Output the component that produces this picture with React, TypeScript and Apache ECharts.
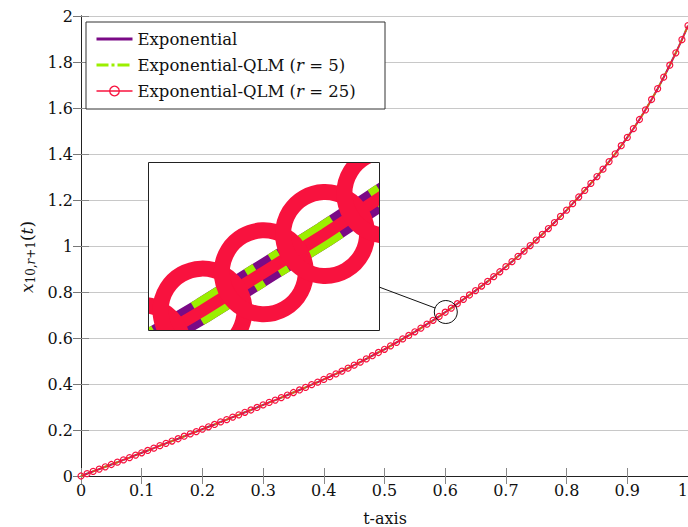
import React, { useEffect, useRef } from "react";
import * as echarts from "echarts";

// t-values of the sampled points (markers every 0.01)
const tValues = [
  0, 0.01, 0.02, 0.03, 0.04, 0.05, 0.06, 0.07, 0.08, 0.09, 0.1,
  0.11, 0.12, 0.13, 0.14, 0.15, 0.16, 0.17, 0.18, 0.19, 0.2,
  0.21, 0.22, 0.23, 0.24, 0.25, 0.26, 0.27, 0.28, 0.29, 0.3,
  0.31, 0.32, 0.33, 0.34, 0.35, 0.36, 0.37, 0.38, 0.39, 0.4,
  0.41, 0.42, 0.43, 0.44, 0.45, 0.46, 0.47, 0.48, 0.49, 0.5,
  0.51, 0.52, 0.53, 0.54, 0.55, 0.56, 0.57, 0.58, 0.59, 0.6,
  0.61, 0.62, 0.63, 0.64, 0.65, 0.66, 0.67, 0.68, 0.69, 0.7,
  0.71, 0.72, 0.73, 0.74, 0.75, 0.76, 0.77, 0.78, 0.79, 0.8,
  0.81, 0.82, 0.83, 0.84, 0.85, 0.86, 0.87, 0.88, 0.89, 0.9,
  0.91, 0.92, 0.93, 0.94, 0.95, 0.96, 0.97, 0.98, 0.99, 1,
];

const yExponential = [
  0, 0.01, 0.02, 0.03, 0.04, 0.05, 0.06, 0.07, 0.08, 0.091, 0.101,
  0.111, 0.121, 0.132, 0.142, 0.152, 0.162, 0.173, 0.183, 0.193, 0.204,
  0.214, 0.224, 0.235, 0.245, 0.256, 0.266, 0.277, 0.287, 0.298, 0.309,
  0.32, 0.33, 0.341, 0.352, 0.363, 0.374, 0.385, 0.397, 0.408, 0.42,
  0.432, 0.444, 0.456, 0.469, 0.482, 0.495, 0.509, 0.523, 0.537, 0.551,
  0.566, 0.581, 0.596, 0.611, 0.627, 0.643, 0.66, 0.677, 0.694, 0.712,
  0.73, 0.749, 0.768, 0.787, 0.806, 0.826, 0.846, 0.867, 0.888, 0.91,
  0.932, 0.955, 0.978, 1.002, 1.026, 1.051, 1.076, 1.102, 1.129, 1.156,
  1.184, 1.213, 1.242, 1.272, 1.302, 1.334, 1.367, 1.401, 1.436, 1.472,
  1.51, 1.55, 1.592, 1.637, 1.684, 1.734, 1.786, 1.84, 1.897, 1.958,
];

const yQLM5 = [
  0, 0.01, 0.02, 0.03, 0.04, 0.05, 0.06, 0.07, 0.08, 0.091, 0.101,
  0.111, 0.121, 0.132, 0.142, 0.152, 0.162, 0.173, 0.183, 0.193, 0.204,
  0.214, 0.224, 0.235, 0.245, 0.256, 0.266, 0.277, 0.287, 0.298, 0.309,
  0.32, 0.33, 0.341, 0.352, 0.363, 0.374, 0.385, 0.397, 0.408, 0.42,
  0.432, 0.444, 0.456, 0.469, 0.482, 0.495, 0.509, 0.523, 0.537, 0.551,
  0.566, 0.581, 0.596, 0.611, 0.627, 0.643, 0.66, 0.677, 0.694, 0.712,
  0.73, 0.749, 0.768, 0.787, 0.806, 0.826, 0.846, 0.867, 0.888, 0.91,
  0.932, 0.955, 0.978, 1.002, 1.026, 1.051, 1.076, 1.102, 1.129, 1.156,
  1.184, 1.213, 1.242, 1.272, 1.302, 1.334, 1.367, 1.401, 1.436, 1.472,
  1.51, 1.55, 1.592, 1.637, 1.684, 1.734, 1.786, 1.84, 1.897, 1.958,
];

const yQLM25 = [
  0, 0.01, 0.02, 0.03, 0.04, 0.05, 0.06, 0.07, 0.08, 0.091, 0.101,
  0.111, 0.121, 0.132, 0.142, 0.152, 0.162, 0.173, 0.183, 0.193, 0.204,
  0.214, 0.224, 0.235, 0.245, 0.256, 0.266, 0.277, 0.287, 0.298, 0.309,
  0.32, 0.33, 0.341, 0.352, 0.363, 0.374, 0.385, 0.397, 0.408, 0.42,
  0.432, 0.444, 0.456, 0.469, 0.482, 0.495, 0.509, 0.523, 0.537, 0.551,
  0.566, 0.581, 0.596, 0.611, 0.627, 0.643, 0.66, 0.677, 0.694, 0.712,
  0.73, 0.749, 0.768, 0.787, 0.806, 0.826, 0.846, 0.867, 0.888, 0.91,
  0.932, 0.955, 0.978, 1.002, 1.026, 1.051, 1.076, 1.102, 1.129, 1.156,
  1.184, 1.213, 1.242, 1.272, 1.302, 1.334, 1.367, 1.401, 1.436, 1.472,
  1.51, 1.55, 1.592, 1.637, 1.684, 1.734, 1.786, 1.84, 1.897, 1.958,
];

const seriesNames = [
  "Exponential",
  "Exponential-QLM (r = 5)",
  "Exponential-QLM (r = 25)",
];

// zoomed window shown in the inset
const insetTRange = [0.5811, 0.6188];
const insetYRange = [0.6849, 0.7638];
// centre of the magnifier circle
const spyPoint = [0.601, 0.713];

const PURPLE = "#7a0a86";
const GREEN = "#9bef00";
const RED = "#f8123e";
const FONT = "DejaVu Serif";

const toPairs = (ys: number[]) => tValues.map((t, i) => [t, ys[i]]);

const clipOf = (cs: any) => ({
  type: "rect",
  shape: { x: cs.x, y: cs.y, width: cs.width, height: cs.height },
});

const insetLine = (name: string, ys: number[], style: any, z: number) => ({
  name,
  type: "custom",
  xAxisIndex: 2,
  yAxisIndex: 2,
  silent: true,
  z,
  data: toPairs(ys),
  renderItem: (params: any, api: any) => {
    if (params.dataIndex !== 0) return null;
    const pts = tValues.map((t, i) => api.coord([t, ys[i]]));
    return {
      type: "polyline",
      shape: { points: pts },
      style: { fill: "none", ...style },
      clipPath: clipOf(params.coordSys),
    };
  },
});

export default function App() {
  const ref = useRef<HTMLDivElement>(null);

  useEffect(() => {
    if (!ref.current) return;
    const chart = echarts.init(ref.current, undefined, {
      renderer: "svg",
      width: 688,
      height: 527,
    });

    const axisLineStyle = { color: "#222", width: 1 };
    const tickStyle = { color: "#888", width: 1 };

    const option: any = {
      animation: false,
      backgroundColor: "#fff",
      grid: [
        { left: 81, top: 16, width: 607, height: 460, outerBoundsMode: "none", containLabel: false },
        { left: 148, top: 162, width: 231, height: 168, show: false, outerBoundsMode: "none", containLabel: false },
      ],
      xAxis: [
        {
          gridIndex: 0,
          type: "value",
          min: 0,
          max: 1,
          interval: 0.1,
          position: "bottom",
          axisLine: { show: true, lineStyle: axisLineStyle },
          axisTick: { show: true, inside: true, length: 8, lineStyle: tickStyle },
          axisLabel: { margin: 6, fontFamily: FONT, fontSize: 16, color: "#111", alignMaxLabel: "right" },
          splitLine: { show: false },
        },
        {
          gridIndex: 0,
          type: "value",
          min: 0,
          max: 1,
          interval: 0.1,
          position: "top",
          axisLine: { show: true, lineStyle: axisLineStyle },
          axisTick: { show: true, inside: true, length: 8, lineStyle: tickStyle },
          axisLabel: { show: false },
          splitLine: { show: false },
        },
        {
          gridIndex: 1,
          type: "value",
          min: insetTRange[0],
          max: insetTRange[1],
          show: false,
        },
      ],
      yAxis: [
        {
          gridIndex: 0,
          type: "value",
          min: 0,
          max: 2,
          interval: 0.2,
          position: "left",
          axisLine: { show: true, lineStyle: axisLineStyle },
          axisTick: { show: true, inside: true, length: 8, lineStyle: tickStyle },
          axisLabel: { margin: 8, fontFamily: FONT, fontSize: 16, color: "#111" },
          splitLine: { show: true, lineStyle: { color: "#c8c8c8", width: 1 } },
        },
        {
          gridIndex: 0,
          type: "value",
          min: 0,
          max: 2,
          interval: 0.2,
          position: "right",
          axisLine: { show: true, lineStyle: axisLineStyle },
          axisTick: { show: true, inside: true, length: 8, lineStyle: { color: "#777", width: 1 } },
          axisLabel: { show: false },
          splitLine: { show: false },
        },
        {
          gridIndex: 1,
          type: "value",
          min: insetYRange[0],
          max: insetYRange[1],
          show: false,
        },
      ],
      legend: {
        orient: "vertical",
        left: 87,
        top: 22,
        padding: [8, 8, 8, 8],
        itemWidth: 36,
        itemHeight: 12,
        itemGap: 8,
        z: 6,
        textStyle: {
          fontFamily: FONT,
          fontSize: 16.5,
          color: "#111",
          lineHeight: 18,
          rich: { i: { fontFamily: FONT, fontSize: 16.5, fontStyle: "italic", color: "#111" } },
        },
        formatter: (name: string) => name.replace("(r", "({i|r}"),
        data: [
          {
            name: seriesNames[0],
            lineStyle: { color: PURPLE, width: 3, type: "solid" },
            itemStyle: { color: "rgba(0,0,0,0)", borderWidth: 0, opacity: 0 },
          },
          {
            name: seriesNames[1],
            lineStyle: { color: GREEN, width: 3, type: [12, 3, 3, 3] },
            itemStyle: { color: "rgba(0,0,0,0)", borderWidth: 0, opacity: 0 },
          },
          {
            name: seriesNames[2],
            lineStyle: { color: RED, width: 1.3, type: "solid" },
            itemStyle: { color: "rgba(0,0,0,0)", borderColor: RED, borderWidth: 1.3 },
          },
        ],
      },
      series: [
        {
          name: seriesNames[0],
          type: "line",
          xAxisIndex: 0,
          yAxisIndex: 0,
          data: toPairs(yExponential),
          symbol: "none",
          lineStyle: { color: PURPLE, width: 2 },
          itemStyle: { color: PURPLE },
          z: 2,
        },
        {
          name: seriesNames[1],
          type: "line",
          xAxisIndex: 0,
          yAxisIndex: 0,
          data: toPairs(yQLM5),
          symbol: "none",
          lineStyle: { color: GREEN, width: 2, type: [4.5, 1.8, 1, 1.8, 1, 1.8] },
          itemStyle: { color: GREEN },
          z: 2,
        },
        {
          name: seriesNames[2],
          type: "line",
          xAxisIndex: 0,
          yAxisIndex: 0,
          data: toPairs(yQLM25),
          symbol: "circle",
          symbolSize: 6,
          showSymbol: true,
          showAllSymbol: true,
          lineStyle: { color: RED, width: 1.2 },
          itemStyle: { color: "rgba(0,0,0,0)", borderColor: RED, borderWidth: 1.2 },
          z: 2,
        },
        // inset (magnified copies of the same three series)
        insetLine("inset-exp", yExponential, { stroke: PURPLE, lineWidth: 26 }, 3),
        insetLine(
          "inset-qlm5",
          yQLM5,
          { stroke: GREEN, lineWidth: 26, lineDash: [45, 18, 10, 18, 10, 18], lineDashOffset: 20 },
          3
        ),
        insetLine("inset-qlm25", yQLM25, { stroke: RED, lineWidth: 12 }, 3),
        {
          name: "inset-qlm25-markers",
          type: "custom",
          xAxisIndex: 2,
          yAxisIndex: 2,
          silent: true,
          z: 4,
          data: toPairs(yQLM25),
          renderItem: (params: any, api: any) => {
            const p = api.coord([api.value(0), api.value(1)]);
            return {
              type: "circle",
              shape: { cx: p[0], cy: p[1], r: 42 },
              style: { fill: "none", stroke: RED, lineWidth: 16 },
              clipPath: clipOf(params.coordSys),
            };
          },
        },
      ],
    };

    chart.setOption(option);

    const c = chart.convertToPixel({ gridIndex: 0 } as any, spyPoint) as number[];
    const r = 11.5;
    const start = [379, 287];
    const dx = start[0] - c[0];
    const dy = start[1] - c[1];
    const L = Math.hypot(dx, dy);
    const end = [c[0] + (dx / L) * r, c[1] + (dy / L) * r];

    chart.setOption({
      graphic: [
        {
          type: "rect",
          id: "legendBox",
          z: 3,
          shape: { x: 86, y: 22, width: 299, height: 87 },
          style: { fill: "#fff", stroke: "#333", lineWidth: 1 },
          silent: true,
        },
        {
          type: "rect",
          id: "insetBg",
          z: 1,
          shape: { x: 148, y: 162, width: 231, height: 168 },
          style: { fill: "#fff" },
          silent: true,
        },
        {
          type: "rect",
          id: "insetBorder",
          z: 10,
          shape: { x: 148.5, y: 162.5, width: 231, height: 168 },
          style: { fill: "none", stroke: "#222", lineWidth: 1 },
          silent: true,
        },
        {
          type: "circle",
          id: "spy",
          z: 10,
          shape: { cx: c[0], cy: c[1], r },
          style: { fill: "none", stroke: "#111", lineWidth: 1 },
          silent: true,
        },
        {
          type: "line",
          id: "connector",
          z: 10,
          shape: { x1: start[0], y1: start[1], x2: end[0], y2: end[1] },
          style: { stroke: "#111", lineWidth: 1 },
          silent: true,
        },
        {
          type: "text",
          id: "ytitle",
          z: 10,
          x: 27,
          y: 257,
          rotation: Math.PI / 2,
          style: {
            text: "{i|x}{s|10,}{si|r}{s|+1}{n|(}{i|t}{n|)}",
            align: "center",
            verticalAlign: "middle",
            fill: "#111",
            rich: {
              i: { fontFamily: FONT, fontSize: 17, fontStyle: "italic", lineHeight: 20, fill: "#111" },
              n: { fontFamily: FONT, fontSize: 17, lineHeight: 20, fill: "#111" },
              s: { fontFamily: FONT, fontSize: 12, lineHeight: 12, verticalAlign: "bottom", fill: "#111" },
              si: { fontFamily: FONT, fontSize: 12, fontStyle: "italic", lineHeight: 12, verticalAlign: "bottom", fill: "#111" },
            },
          },
          silent: true,
        },
        {
          type: "text",
          id: "xtitle",
          z: 10,
          x: 385,
          y: 518,
          style: {
            text: "t-axis",
            fontFamily: FONT,
            fontSize: 16,
            fill: "#111",
            align: "center",
            verticalAlign: "middle",
          },
          silent: true,
        },
      ],
    });

    return () => chart.dispose();
  }, []);

  return (
    <div
      ref={ref}
      style={{ position: "fixed", left: 0, top: 0, width: 688, height: 527 }}
    />
  );
}
